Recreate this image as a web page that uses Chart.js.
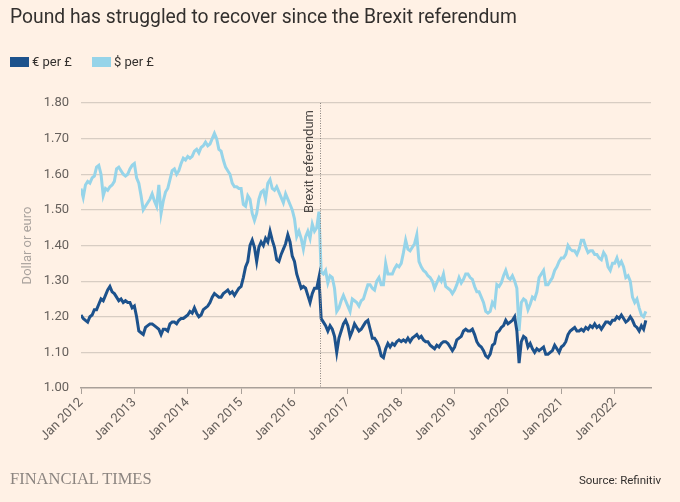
<!DOCTYPE html>
<html><head><meta charset="utf-8">
<script src="https://cdn.jsdelivr.net/npm/chart.js@4/dist/chart.umd.min.js"></script>
<style>
html,body{margin:0;padding:0;background:#FFF1E5;width:680px;height:502px;overflow:hidden;font-family:Roboto,"Noto Sans",sans-serif;}
#wrap{position:absolute;left:0;top:0;width:680px;height:502px;}
#title{position:absolute;left:10px;top:5px;font-size:19.3px;color:#33302e;white-space:nowrap;}
#legend{position:absolute;left:10px;top:54px;font-size:13px;color:#33302e;white-space:nowrap;}
#legend .sw{display:inline-block;width:19px;height:10px;vertical-align:-1px;margin-right:3px;}
#legend .item{margin-right:20px;}
#ft{position:absolute;left:10px;top:469px;font-family:"Liberation Serif","DejaVu Serif",serif;font-size:16.5px;color:#8c8580;}
#src{position:absolute;right:19px;top:473px;font-size:11.5px;color:#33302e;}
</style></head>
<body>
<div id="wrap"><canvas id="c" width="680" height="502"></canvas></div>
<div id="title">Pound has struggled to recover since the Brexit referendum</div>
<div id="legend"><span class="item"><span class="sw" style="background:#1d528c"></span>€ per £</span><span class="item"><span class="sw" style="background:#96d4e9"></span>$ per £</span></div>
<div id="ft">FINANCIAL TIMES</div>
<div id="src">Source: Refinitiv</div>
<script>
// Semi-monthly readings (1st and 16th of each month), Jan 2012 - Aug 2022
const startYear = 2012;
const pointsPerYear = 24;
const yearTicks = [2012, 2013, 2014, 2015, 2016, 2017, 2018, 2019, 2020, 2021, 2022];
const brexitDate = 2016.476;
const brexitLabel = "Brexit referendum";
const seriesNames = ["€ per £", "$ per £"];

const usd2012 = [1.560, 1.535, 1.570, 1.580, 1.575, 1.590, 1.595, 1.620, 1.625, 1.600, 1.540, 1.560, 1.555, 1.565, 1.570, 1.580, 1.615, 1.620, 1.610, 1.600, 1.595, 1.600, 1.615, 1.625];
const usd2013 = [1.630, 1.590, 1.575, 1.540, 1.500, 1.510, 1.520, 1.530, 1.545, 1.525, 1.510, 1.570, 1.490, 1.525, 1.550, 1.560, 1.585, 1.610, 1.615, 1.600, 1.610, 1.630, 1.645, 1.640];
const usd2014 = [1.650, 1.645, 1.650, 1.665, 1.670, 1.660, 1.675, 1.680, 1.690, 1.680, 1.685, 1.700, 1.715, 1.700, 1.670, 1.665, 1.640, 1.620, 1.610, 1.600, 1.575, 1.565, 1.565, 1.560];
const usd2015 = [1.560, 1.515, 1.510, 1.540, 1.530, 1.490, 1.470, 1.490, 1.530, 1.550, 1.555, 1.530, 1.575, 1.585, 1.560, 1.555, 1.565, 1.550, 1.535, 1.520, 1.545, 1.530, 1.515, 1.500];
const usd2016 = [1.475, 1.425, 1.440, 1.420, 1.390, 1.425, 1.440, 1.420, 1.460, 1.440, 1.450, 1.495, 1.325, 1.320, 1.330, 1.295, 1.315, 1.310, 1.280, 1.215, 1.225, 1.245, 1.260, 1.245];
const usd2017 = [1.230, 1.215, 1.250, 1.245, 1.240, 1.230, 1.245, 1.250, 1.270, 1.290, 1.290, 1.280, 1.275, 1.300, 1.310, 1.290, 1.290, 1.350, 1.320, 1.320, 1.320, 1.335, 1.345, 1.340];
const usd2018 = [1.350, 1.380, 1.415, 1.390, 1.385, 1.395, 1.405, 1.430, 1.355, 1.340, 1.330, 1.325, 1.315, 1.310, 1.300, 1.280, 1.295, 1.310, 1.300, 1.320, 1.285, 1.280, 1.275, 1.265];
const usd2019 = [1.275, 1.290, 1.310, 1.295, 1.305, 1.320, 1.320, 1.310, 1.305, 1.285, 1.270, 1.270, 1.255, 1.240, 1.215, 1.210, 1.215, 1.240, 1.230, 1.290, 1.285, 1.295, 1.315, 1.330];
const usd2020 = [1.310, 1.305, 1.315, 1.300, 1.280, 1.160, 1.240, 1.250, 1.245, 1.220, 1.235, 1.255, 1.250, 1.270, 1.310, 1.320, 1.330, 1.290, 1.290, 1.300, 1.310, 1.330, 1.340, 1.355];
const usd2021 = [1.365, 1.365, 1.375, 1.400, 1.390, 1.385, 1.385, 1.375, 1.390, 1.415, 1.415, 1.395, 1.380, 1.385, 1.385, 1.375, 1.375, 1.365, 1.360, 1.380, 1.370, 1.340, 1.330, 1.350];
const usd2022 = [1.350, 1.365, 1.345, 1.355, 1.340, 1.310, 1.315, 1.300, 1.255, 1.240, 1.250, 1.225, 1.205, 1.200, 1.215];

const eur2012 = [1.205, 1.195, 1.190, 1.185, 1.200, 1.205, 1.220, 1.220, 1.235, 1.250, 1.245, 1.260, 1.275, 1.285, 1.270, 1.265, 1.255, 1.245, 1.250, 1.240, 1.245, 1.240, 1.240, 1.225];
const eur2013 = [1.230, 1.200, 1.160, 1.155, 1.150, 1.170, 1.175, 1.180, 1.180, 1.175, 1.170, 1.165, 1.150, 1.165, 1.165, 1.160, 1.180, 1.185, 1.185, 1.180, 1.190, 1.195, 1.195, 1.200];
const eur2014 = [1.205, 1.215, 1.210, 1.225, 1.210, 1.200, 1.205, 1.220, 1.225, 1.230, 1.240, 1.255, 1.265, 1.260, 1.255, 1.255, 1.265, 1.270, 1.275, 1.265, 1.270, 1.260, 1.270, 1.280];
const eur2015 = [1.285, 1.310, 1.340, 1.355, 1.400, 1.415, 1.395, 1.355, 1.395, 1.410, 1.400, 1.420, 1.410, 1.440, 1.415, 1.395, 1.360, 1.355, 1.375, 1.390, 1.405, 1.430, 1.410, 1.370];
const eur2016 = [1.355, 1.320, 1.300, 1.280, 1.285, 1.280, 1.260, 1.240, 1.265, 1.280, 1.280, 1.310, 1.195, 1.185, 1.175, 1.160, 1.175, 1.165, 1.145, 1.100, 1.140, 1.160, 1.180, 1.190];
const eur2017 = [1.175, 1.145, 1.160, 1.180, 1.170, 1.160, 1.165, 1.175, 1.185, 1.190, 1.165, 1.140, 1.140, 1.130, 1.115, 1.090, 1.085, 1.110, 1.125, 1.115, 1.125, 1.120, 1.130, 1.135];
const eur2018 = [1.130, 1.135, 1.130, 1.140, 1.130, 1.140, 1.145, 1.150, 1.140, 1.145, 1.135, 1.130, 1.130, 1.120, 1.115, 1.110, 1.120, 1.115, 1.125, 1.130, 1.130, 1.125, 1.115, 1.105];
const eur2019 = [1.115, 1.135, 1.140, 1.145, 1.160, 1.165, 1.160, 1.160, 1.165, 1.150, 1.130, 1.120, 1.115, 1.105, 1.090, 1.085, 1.095, 1.120, 1.125, 1.155, 1.160, 1.170, 1.175, 1.190];
const eur2020 = [1.180, 1.185, 1.190, 1.200, 1.160, 1.070, 1.130, 1.145, 1.140, 1.115, 1.125, 1.110, 1.100, 1.110, 1.105, 1.110, 1.115, 1.095, 1.095, 1.100, 1.105, 1.120, 1.110, 1.100];
const eur2021 = [1.115, 1.120, 1.130, 1.150, 1.160, 1.165, 1.170, 1.160, 1.160, 1.165, 1.160, 1.170, 1.165, 1.175, 1.170, 1.180, 1.170, 1.175, 1.165, 1.175, 1.185, 1.185, 1.180, 1.190];
const eur2022 = [1.190, 1.200, 1.195, 1.205, 1.195, 1.185, 1.190, 1.200, 1.190, 1.175, 1.170, 1.160, 1.175, 1.165, 1.190];

const usdValues = [].concat(usd2012, usd2013, usd2014, usd2015, usd2016, usd2017, usd2018, usd2019, usd2020, usd2021, usd2022);
const eurValues = [].concat(eur2012, eur2013, eur2014, eur2015, eur2016, eur2017, eur2018, eur2019, eur2020, eur2021, eur2022);
const toPoints = vals => vals.map((v, i) => ({ x: startYear + i / pointsPerYear, y: v }));

const brexitPlugin = {
  id: 'brexit',
  afterDatasetsDraw(chart) {
    const { ctx, chartArea, scales } = chart;
    const x = Math.round(scales.x.getPixelForValue(brexitDate)) + 0.5;
    ctx.save();
    ctx.strokeStyle = '#8a837e';
    ctx.lineWidth = 1;
    ctx.setLineDash([1, 1.5]);
    ctx.beginPath();
    ctx.moveTo(x, chartArea.top);
    ctx.lineTo(x, chartArea.bottom);
    ctx.stroke();
    ctx.setLineDash([]);
    ctx.translate(x - 4, chartArea.top + 7);
    ctx.rotate(-Math.PI / 2);
    ctx.font = '13px Roboto, "Noto Sans", sans-serif';
    ctx.fillStyle = '#4d4845';
    ctx.textAlign = 'right';
    ctx.textBaseline = 'bottom';
    ctx.fillText(brexitLabel, 0, 0);
    ctx.restore();
  }
};

new Chart(document.getElementById('c'), {
  type: 'line',
  data: {
    datasets: [
      { label: seriesNames[0], data: toPoints(eurValues), borderColor: '#1d528c', borderWidth: 3, pointRadius: 0, tension: 0, order: 1 },
      { label: seriesNames[1], data: toPoints(usdValues), borderColor: '#96d4e9', borderWidth: 3, pointRadius: 0, tension: 0, order: 2 }
    ]
  },
  options: {
    responsive: false,
    animation: false,
    events: [],
    layout: { padding: { top: 103, left: 18, right: 29, bottom: 0 } },
    plugins: { legend: { display: false }, tooltip: { enabled: false } },
    scales: {
      x: {
        type: 'linear',
        min: startYear,
        max: 2022.68,
        afterBuildTicks: axis => { axis.ticks = yearTicks.map(v => ({ value: v })); },
        afterFit: scale => { scale.height = 114; },
        border: { display: true, color: '#a9a099', width: 1.5 },
        grid: { drawOnChartArea: false, drawTicks: true, tickLength: 6, color: '#a9a099' },
        ticks: {
          autoSkip: false, minRotation: 45, maxRotation: 45, padding: 1,
          color: '#66605c', font: { size: 13, family: 'Roboto, "Noto Sans", sans-serif' },
          callback: v => 'Jan ' + v
        }
      },
      y: {
        min: 1.0,
        max: 1.8,
        afterFit: scale => { scale.width = 63; },
        border: { display: false },
        grid: { drawTicks: false, color: ctx => ctx.tick && ctx.tick.value === 1 ? 'rgba(0,0,0,0)' : '#d8cdc3', lineWidth: 1.2 },
        ticks: {
          stepSize: 0.1, padding: 12,
          color: '#66605c', font: { size: 13, family: 'Roboto, "Noto Sans", sans-serif' },
          callback: v => Number(v).toFixed(2)
        },
        title: {
          display: true, text: 'Dollar or euro', color: '#aaa39e',
          font: { size: 13, family: 'Roboto, "Noto Sans", sans-serif' },
          padding: { top: 2, bottom: 4 }
        }
      }
    }
  },
  plugins: [brexitPlugin]
});
</script>
</body></html>
